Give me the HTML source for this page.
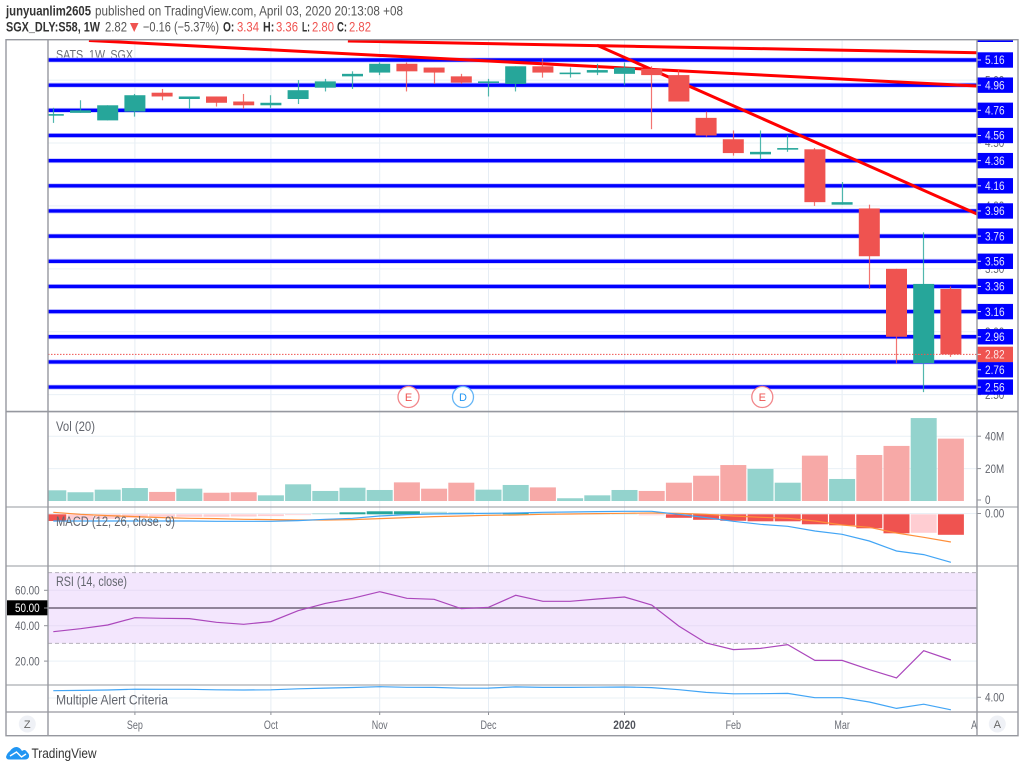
<!DOCTYPE html>
<html lang="en">
<head>
<meta charset="utf-8">
<title>SATS 1W chart</title>
<style>
html,body{margin:0;padding:0;background:#fff;width:1024px;height:770px;overflow:hidden}
svg{display:block;position:absolute;left:0;top:0;font-family:"Liberation Sans",sans-serif;filter:blur(0.3px)}
text{white-space:pre}
</style>
</head>
<body>
<svg id="chart" xmlns="http://www.w3.org/2000/svg" width="1024" height="770" viewBox="0 0 1024 770">
  <defs>
    <clipPath id="paneClip"><rect x="48" y="40" width="929" height="672"/></clipPath>
    <clipPath id="timeClip"><rect x="48" y="712" width="929" height="24"/></clipPath>
  </defs>
  <rect x="0" y="0" width="1024" height="770" fill="#ffffff"/>

  <g>
    <text x="6" y="15.5" font-size="13.5" font-weight="bold" fill="#333" textLength="85" lengthAdjust="spacingAndGlyphs">junyuanlim2605</text>
    <text x="95" y="15.5" font-size="13.5" fill="#555" textLength="308" lengthAdjust="spacingAndGlyphs">published on TradingView.com, April 03, 2020 20:13:08 +08</text>
  </g>
  <g font-size="13.5">
    <text x="6" y="31.5" font-weight="bold" fill="#333" textLength="94" lengthAdjust="spacingAndGlyphs">SGX_DLY:S58, 1W</text>
    <text x="105" y="31.5" fill="#555" textLength="22" lengthAdjust="spacingAndGlyphs">2.82</text>
    <polygon points="130,23 138.5,23 134.2,32" fill="#ef5350"/>
    <text x="143" y="31.5" fill="#555" textLength="76" lengthAdjust="spacingAndGlyphs">−0.16 (−5.37%)</text>
    <text x="223" y="31.5" font-weight="bold" fill="#333" textLength="11.3" lengthAdjust="spacingAndGlyphs">O:</text>
    <text x="237" y="31.5" fill="#ef5350" textLength="22" lengthAdjust="spacingAndGlyphs">3.34</text>
    <text x="263" y="31.5" font-weight="bold" fill="#333" textLength="11.3" lengthAdjust="spacingAndGlyphs">H:</text>
    <text x="276" y="31.5" fill="#ef5350" textLength="22" lengthAdjust="spacingAndGlyphs">3.36</text>
    <text x="302" y="31.5" font-weight="bold" fill="#333" textLength="8" lengthAdjust="spacingAndGlyphs">L:</text>
    <text x="312" y="31.5" fill="#ef5350" textLength="22" lengthAdjust="spacingAndGlyphs">2.80</text>
    <text x="337" y="31.5" font-weight="bold" fill="#333" textLength="10" lengthAdjust="spacingAndGlyphs">C:</text>
    <text x="349" y="31.5" fill="#ef5350" textLength="22" lengthAdjust="spacingAndGlyphs">2.82</text>
  </g>

  <g id="grid"></g>
  <g id="rsiBack"></g>
  <text x="56" y="59.2" font-size="13" fill="#6b6e76" textLength="77" lengthAdjust="spacingAndGlyphs">SATS, 1W, SGX</text>
  <g id="levels" clip-path="url(#paneClip)"></g>
  <g id="trends" clip-path="url(#paneClip)"></g>
  <g id="candles" clip-path="url(#paneClip)"></g>
  <g id="closeLine"></g>

  <g font-size="11" text-anchor="middle">
    <g>
      <circle cx="408.5" cy="397" r="10.5" fill="#fff" stroke="#f2868a" stroke-width="1.3"/>
      <text x="408.5" y="401" fill="#ef5350">E</text>
    </g>
    <g>
      <circle cx="463" cy="397" r="10.5" fill="#fff" stroke="#64b5f6" stroke-width="1.3"/>
      <text x="463" y="401" fill="#2196f3">D</text>
    </g>
    <g>
      <circle cx="762.3" cy="397" r="10.5" fill="#fff" stroke="#f2868a" stroke-width="1.3"/>
      <text x="762.3" y="401" fill="#ef5350">E</text>
    </g>
  </g>

  <g id="volume" clip-path="url(#paneClip)"></g>
  <g id="macd" clip-path="url(#paneClip)"></g>
  <g id="rsi" clip-path="url(#paneClip)"></g>
  <g id="alert" clip-path="url(#paneClip)"></g>

  <g font-size="13.5" fill="#63666e">
    <text x="56" y="431" textLength="39" lengthAdjust="spacingAndGlyphs">Vol (20)</text>
    <text x="56" y="526" textLength="119" lengthAdjust="spacingAndGlyphs">MACD (12, 26, close, 9)</text>
    <text x="56" y="586" textLength="71" lengthAdjust="spacingAndGlyphs">RSI (14, close)</text>
    <text x="56" y="704.5" textLength="112" lengthAdjust="spacingAndGlyphs">Multiple Alert Criteria</text>
  </g>

  <g>
    <rect x="7" y="600.3" width="41" height="15" fill="#000"/>
  </g>
  <g id="axes"></g>

  <g stroke="#96989f" fill="none">
    <rect x="6" y="39.7" width="1012" height="696" stroke-width="1.4"/>
    <line x1="48" y1="40" x2="48" y2="736" stroke-width="1.4"/>
    <line x1="977" y1="40" x2="977" y2="736" stroke-width="1.4"/>
    <line x1="6" y1="411.6" x2="1018" y2="411.6" stroke-width="1.6"/>
    <line x1="6" y1="507" x2="1018" y2="507" stroke-width="1"/>
    <line x1="6" y1="566" x2="1018" y2="566" stroke-width="1"/>
    <line x1="6" y1="685" x2="1018" y2="685" stroke-width="1"/>
    <line x1="6" y1="712" x2="1018" y2="712" stroke-width="1.2"/>
  </g>

  <g>
    <circle cx="27.3" cy="724" r="8.5" fill="#eff1f6"/>
    <text x="27.3" y="728" font-size="11" text-anchor="middle" fill="#666">Z</text>
  </g>
  <g>
    <circle cx="997.3" cy="724" r="8.5" fill="#eff1f6"/>
    <text x="997.3" y="728" font-size="11" text-anchor="middle" fill="#666">A</text>
  </g>

  <g>
    <path d="M6 757 Q7 753 10 751 Q13 746.7 17 747 Q20 747.5 22 751 Q25 748.5 27 752 Q29.5 754 29 757 Q28 759.5 25 759.5 H9 Q6.5 759.5 6 757 Z" fill="#2196f3"/>
    <path d="M10 756 L16.5 752 L21.5 757 L26 754" fill="none" stroke="#fff" stroke-width="1.4"/>
    <text x="31.5" y="758" font-size="14" fill="#333" textLength="65" lengthAdjust="spacingAndGlyphs">TradingView</text>
  </g>
</svg>

<script>
// ---------- chart data ----------
const opens  = [4.72,4.74,4.68,4.75,4.90,4.85,4.87,4.83,4.80,4.85,4.94,5.03,5.06,5.13,5.10,5.03,4.98,4.97,5.11,5.05,5.06,5.05,5.09,5.04,4.70,4.53,4.41,4.45,4.45,4.01,3.98,3.50,2.75,3.34];
const highs  = [4.78,4.84,4.80,4.89,4.93,4.87,4.87,4.89,4.88,5.00,5.01,5.07,5.14,5.14,5.10,5.05,5.01,5.11,5.17,5.10,5.13,5.14,5.11,5.08,4.75,4.60,4.60,4.56,4.46,4.19,4.01,3.50,3.79,3.36];
const lows   = [4.66,4.74,4.68,4.71,4.84,4.77,4.79,4.77,4.78,4.81,4.91,4.93,5.04,4.91,4.97,4.97,4.87,4.91,5.02,5.02,5.04,4.96,4.61,4.83,4.55,4.40,4.37,4.43,4.00,4.01,3.34,2.75,2.52,2.80];
const closes = [4.73,4.76,4.80,4.88,4.87,4.87,4.82,4.80,4.82,4.92,4.99,5.05,5.13,5.07,5.06,4.98,4.99,5.11,5.06,5.06,5.08,5.10,5.04,4.83,4.56,4.42,4.43,4.46,4.03,4.03,3.60,2.96,3.38,2.82];

const volumesM = [6.6,5.4,7.0,8.0,5.6,7.6,5.1,5.4,3.5,10.3,6.2,8.2,6.8,11.5,7.6,11.3,7.0,9.9,8.4,1.7,3.5,6.8,6.2,11.3,15.6,22.2,19.8,11.3,28,13.6,28.4,34,51.2,38.5];
const volumeRising = [1,1,1,1,0,1,0,0,1,1,1,1,1,0,0,0,1,1,0,1,1,1,0,0,0,0,1,1,0,1,0,0,1,0];

const macdHist = [-0.067,-0.055,-0.045,-0.035,-0.025,-0.025,-0.025,-0.022,-0.018,-0.008,0.01,0.02,0.03,0.03,0.025,0.02,0.015,0.015,0.01,0.008,0.006,0.004,-0.01,-0.035,-0.055,-0.065,-0.07,-0.07,-0.1,-0.11,-0.14,-0.19,-0.185,-0.205];
const macdHistStrong = [1,0,0,0,0,0,0,0,0,0,0,1,1,1,0,0,0,1,0,0,0,0,0,1,1,1,1,1,1,1,1,1,0,1];
const macdLine = [-0.067,-0.067,-0.067,-0.067,-0.067,-0.067,-0.07,-0.07,-0.07,-0.063,-0.05,-0.04,-0.017,-0.003,0.003,0.007,0.01,0.013,0.02,0.023,0.027,0.03,0.03,0,-0.033,-0.07,-0.1,-0.12,-0.167,-0.2,-0.267,-0.367,-0.403,-0.48];
const signalLine = [0.02,0,-0.013,-0.023,-0.033,-0.04,-0.043,-0.05,-0.053,-0.057,-0.057,-0.053,-0.043,-0.033,-0.023,-0.017,-0.01,-0.007,0,0.003,0.007,0.01,0.013,0.01,0,-0.017,-0.03,-0.04,-0.067,-0.107,-0.13,-0.187,-0.23,-0.277];

const rsiValues = [36.6,38.3,40.4,44.5,44.2,44.0,41.9,40.8,42.3,48.5,52.6,55.5,59.2,55.5,54.9,49.6,50.4,57.2,53.8,53.8,55.1,56.2,51.7,39.8,30.2,26.5,27.2,29.3,20.4,20.4,15.2,10.5,25.9,20.6];
const alertValues = [4.73,4.76,4.80,4.88,4.87,4.87,4.82,4.80,4.82,4.92,4.99,5.05,5.13,5.07,5.06,4.98,4.99,5.11,5.06,5.06,5.08,5.10,5.04,4.83,4.56,4.42,4.43,4.46,4.03,4.03,3.60,2.96,3.38,2.82];

const levelPrices = [5.16,4.96,4.76,4.56,4.36,4.16,3.96,3.76,3.56,3.36,3.16,2.96,2.76,2.56];
const priceTicks = [5.00,4.50,4.00,3.50,3.00,2.50];
const volumeTicks = [0,20,40];
const volumeTickLabels = ["0","20M","40M"];
const rsiTicks = [60,40,20];
const alertTicks = [4];
const macdTicks = [0];

const timeTickIndex = [3,8,12,16,21,25,29,34];
const timeTickLabels = ["Sep","Oct","Nov","Dec","2020","Feb","Mar","Apr"];

const trendFromIndex = [1.31,10.83,19.99];
const trendFromPrice = [5.315,5.311,5.277];
const trendToIndex = [33.96,33.96,33.96];
const trendToPrice = [4.953,5.218,3.936];

// ---------- axis functions ----------
const xOf = i => 53.3 + 27.2 * i;
const yPrice = p => 60 + (5.16 - p) * 125.8;
const yVol = v => 501 - v * 1.62;
const yMacd = v => 514.3 - v * 100;
const yRsi = v => 608 + (50 - v) * 1.77;
const yAlert = v => 698 - (v - 4) * 10;

const NS = 'http://www.w3.org/2000/svg';
const $ = id => document.getElementById(id);
function mk(tag, parent, attrs, txt) {
  const e = document.createElementNS(NS, tag);
  for (const k in attrs) e.setAttribute(k, attrs[k]);
  if (txt !== undefined) e.textContent = txt;
  parent.appendChild(e);
  return e;
}
// narrows Liberation text to the width of the reference's UI font
function condense(t, factor) {
  t.setAttribute('textLength', (t.getComputedTextLength() * factor).toFixed(2));
  t.setAttribute('lengthAdjust', 'spacingAndGlyphs');
}
const polyPoints = (vals, yFn) => vals.map((v, i) => xOf(i).toFixed(1) + ',' + yFn(v).toFixed(1)).join(' ');
const GREEN = '#26a69a', RED = '#ef5350';

// grid: vertical
timeTickIndex.forEach(i => {
  if (i > 33) return;
  const g = mk('line', $('grid'), {x1: xOf(i), x2: xOf(i), y1: 40, y2: 712, stroke: '#e6edf4', 'stroke-width': 1});
  
  
});
// grid: horizontal
function hGrid(y) {
  const g = mk('line', $('grid'), {x1: 48, x2: 977, y1: y, y2: y, stroke: '#e9f0f6', 'stroke-width': 1});
  
  
}
priceTicks.forEach(p => hGrid(yPrice(p)));
volumeTicks.forEach(v => { if (v > 0) hGrid(yVol(v)); });
macdTicks.forEach(v => hGrid(yMacd(v) - 0.8));
alertTicks.forEach(v => hGrid(yAlert(v)));
hGrid(yRsi(20));

// RSI background
const rsiBand = mk('rect', $('rsiBack'), {x: 48, y: yRsi(70), width: 929, height: yRsi(30) - yRsi(70), fill: '#f3e6fd'});


[60, 40].forEach(v => {
  const l = mk('line', $('rsiBack'), {x1: 48, x2: 977, y1: yRsi(v), y2: yRsi(v), stroke: '#e7dcf5', 'stroke-width': 1});
  
  
});
[70, 30].forEach(v => {
  const l = mk('line', $('rsiBack'), {x1: 48, x2: 977, y1: yRsi(v), y2: yRsi(v), stroke: '#b5b1bb', 'stroke-width': 1, 'stroke-dasharray': '4 3'});
  
  
});
const mid = mk('line', $('rsiBack'), {x1: 48, x2: 977, y1: yRsi(50), y2: yRsi(50), stroke: '#6f6478', 'stroke-width': 1.4});



// blue level lines
levelPrices.forEach(p => {
  const h = mk('line', $('levels'), {x1: 48, x2: 977, y1: yPrice(p), y2: yPrice(p), stroke: '#c9c9ff', 'stroke-width': 5});
  
  
  const l = mk('line', $('levels'), {x1: 48, x2: 977, y1: yPrice(p), y2: yPrice(p), stroke: '#0000ff', 'stroke-width': 3.4});
  
  
});

// red trend lines
trendFromIndex.forEach((_, t) => {
  const l = mk('line', $('trends'), {x1: xOf(trendFromIndex[t]), y1: yPrice(trendFromPrice[t]), x2: xOf(trendToIndex[t]), y2: yPrice(trendToPrice[t]), stroke: '#ff0000', 'stroke-width': 3});
  
  
});

// candles
closes.forEach((c, i) => {
  const o = opens[i], col = c >= o ? GREEN : RED;
  const g = mk('g', $('candles'), {});
  
  
  const wx = Math.floor(xOf(i)) + 0.5;
  const w = mk('line', g, {x1: wx, x2: wx, y1: yPrice(highs[i]), y2: yPrice(lows[i]), stroke: col, 'stroke-width': 1.2, opacity: 0.8});
  
  
  const top = yPrice(Math.max(o, c)), bot = yPrice(Math.min(o, c));
  const b = mk('rect', g, {x: xOf(i) - 10.5, y: top, width: 21, height: Math.max(bot - top, 1.6), fill: col});
  
  
});

// last close dotted line
const lastLine = mk('line', $('closeLine'), {x1: 48, x2: 977, y1: yPrice(closes[closes.length - 1]), y2: yPrice(closes[closes.length - 1]), stroke: RED, 'stroke-width': 1, 'stroke-dasharray': '1.5 1.5'});



// volume
volumesM.forEach((v, i) => {
  const b = mk('rect', $('volume'), {x: xOf(i) - 13, y: yVol(v), width: 26, height: yVol(0) - yVol(v), fill: volumeRising[i] ? '#93d3cd' : '#f7a9a7'});
  
  
});

// MACD
macdHist.forEach((v, i) => {
  const top = Math.min(yMacd(v), yMacd(0)), h = Math.abs(yMacd(v) - yMacd(0));
  const col = v >= 0 ? (macdHistStrong[i] ? GREEN : '#b2dfdb') : (macdHistStrong[i] ? RED : '#ffcdd2');
  const b = mk('rect', $('macd'), {x: xOf(i) - 13, y: top, width: 26, height: h, fill: col});
  
  
});
const sigPath = mk('polyline', $('macd'), {points: polyPoints(signalLine, yMacd), fill: 'none', stroke: '#ff8f3a', 'stroke-width': 1.2});


const macdPath = mk('polyline', $('macd'), {points: polyPoints(macdLine, yMacd), fill: 'none', stroke: '#42a5f5', 'stroke-width': 1.2});



// RSI
const rsiPath = mk('polyline', $('rsi'), {points: polyPoints(rsiValues, yRsi), fill: 'none', stroke: '#ab47bc', 'stroke-width': 1.2});



// alert
const alertPath = mk('polyline', $('alert'), {points: polyPoints(alertValues, yAlert), fill: 'none', stroke: '#42a5f5', 'stroke-width': 1.2});



// ---------- axis labels ----------
const axes = $('axes');
function rightTick(y, label, name) {
  const t = mk('line', axes, {x1: 977, x2: 981, y1: y, y2: y, stroke: '#8f9198', 'stroke-width': 1});
  
  
  const l = mk('text', axes, {x: 985, y: y + 4.2, 'font-size': 11.5, fill: '#62656d'}, label);
  
  
  condense(l, 0.86);
}
function leftTick(y, label, col) {
  const t = mk('line', axes, {x1: 44, x2: 48, y1: y, y2: y, stroke: '#8f9198', 'stroke-width': 1});
  
  
  const l = mk('text', axes, {x: 39.7, y: y + 4.2, 'font-size': 11.5, fill: col, 'text-anchor': 'end'}, label);
  
  
  condense(l, 0.86);
}
priceTicks.forEach(p => rightTick(yPrice(p), p.toFixed(2), 'price-axis'));
volumeTicks.forEach((v, i) => rightTick(yVol(v) - (v === 0 ? 1 : 0), volumeTickLabels[i], 'volume-axis'));
macdTicks.forEach(v => rightTick(yMacd(v) - 0.8, v.toFixed(2), 'macd-axis'));
alertTicks.forEach(v => rightTick(yAlert(v) - 0.7, v.toFixed(2), 'alert-axis'));
rsiTicks.forEach(v => leftTick(yRsi(v), v.toFixed(2), '#62656d'));
leftTick(yRsi(50), (50).toFixed(2), '#ffffff');

// blue level tags (a tag colliding with the last-price tag gets pushed below it)
const lastY = yPrice(closes[closes.length - 1]);
levelPrices.forEach(p => {
  let y = yPrice(p);
  if (y > lastY && y - lastY < 15.4) y = lastY + 15.4;
  const r = mk('rect', axes, {x: 977, y: y - 7.7, width: 36, height: 15.4, fill: '#0000ff'});
  
  
  const t = mk('line', axes, {x1: 977, x2: 981, y1: y, y2: y, stroke: '#e8e8ff', 'stroke-width': 1});
  
  
  const l = mk('text', axes, {x: 985, y: y + 4.2, 'font-size': 11.5, fill: '#e6e6ff'}, p.toFixed(2));
  
  
  condense(l, 0.875);
});
// clipped tag at the very top
const topTag = mk('rect', axes, {x: 977, y: 40, width: 36, height: 2, fill: '#0000ff'});


// last price tag
const lastTag = mk('rect', axes, {x: 977, y: lastY - 7.7, width: 36, height: 15.4, fill: RED});


const lastTick = mk('line', axes, {x1: 977, x2: 981, y1: lastY, y2: lastY, stroke: '#ffe9e9', 'stroke-width': 1});


const lastText = mk('text', axes, {x: 985, y: lastY + 4.2, 'font-size': 11.5, fill: '#ffe9e9'}, closes[closes.length - 1].toFixed(2));


condense(lastText, 0.875);

// time axis
const timeG = mk('g', axes, {'clip-path': 'url(#timeClip)'});


timeTickIndex.forEach((idx, i) => {
  const x = xOf(idx);
  const t = mk('line', timeG, {x1: x, x2: x, y1: 712, y2: 715, stroke: '#8f9198', 'stroke-width': 1});
  
  
  const bold = timeTickLabels[i] === '2020';
  const l = mk('text', timeG, {x: x, y: 729, 'font-size': 11.5, 'text-anchor': 'middle', fill: bold ? '#50535b' : '#6b6e76', 'font-weight': bold ? 'bold' : 'normal'}, timeTickLabels[i]);
  
  
  condense(l, bold ? 0.88 : 0.78);
});
</script>
</body>
</html>
